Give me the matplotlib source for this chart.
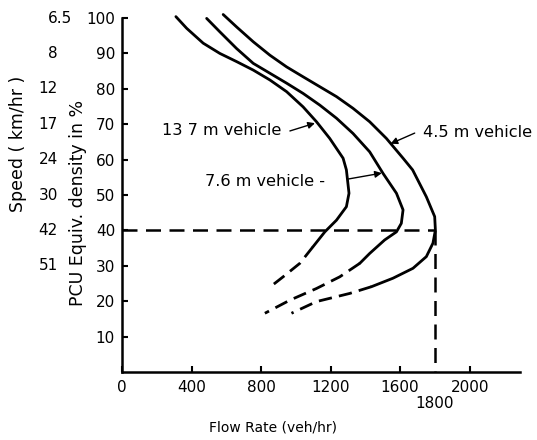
import matplotlib
matplotlib.use("Agg")
import matplotlib.pyplot as plt
import matplotlib.transforms as mtransforms

# Flow–density curves (flow in veh/hr, density in PCU equiv. %)
flow_45_solid = [582, 659, 755, 851, 947, 1042, 1138, 1234, 1329, 1425, 1521, 1617, 1672,
                 1751, 1799, 1803, 1789, 1751, 1674, 1559, 1435]
dens_45_solid = [101.0, 97.5, 93.3, 89.5, 86.2, 83.4, 80.6, 77.8, 74.5, 70.7, 66.0, 60.4, 57.1,
                 49.5, 43.9, 40.1, 36.4, 32.6, 29.3, 26.5, 24.1]
flow_45_dash = [1435, 1310, 1119, 975]
dens_45_dash = [24.1, 22.2, 19.9, 16.6]

flow_76_solid = [487, 563, 659, 755, 851, 947, 1042, 1138, 1234, 1329, 1425, 1502, 1579,
                 1617, 1607, 1579, 1511, 1425, 1368]
dens_76_solid = [99.9, 96.1, 91.4, 87.2, 84.4, 81.6, 78.7, 75.4, 71.7, 67.4, 62.2, 56.1, 50.5,
                 45.8, 42.0, 39.6, 37.3, 33.5, 30.7]
flow_76_dash = [1368, 1253, 1119, 966, 822]
dens_76_dash = [30.7, 26.9, 23.6, 20.3, 16.6]

flow_137_solid = [310, 372, 467, 563, 659, 755, 851, 947, 1042, 1119, 1195, 1272, 1291,
                  1306, 1291, 1234, 1167, 1099]
dens_137_solid = [100.4, 97.1, 92.9, 90.0, 87.7, 85.3, 82.5, 79.2, 74.9, 70.7, 66.0, 60.4, 57.1,
                  50.5, 46.7, 42.9, 39.6, 35.4]
flow_137_dash = [1099, 1023, 927, 841]
dens_137_dash = [35.4, 30.7, 26.9, 23.6]

# Capacity reference point
cap_flow = 1800
cap_density = 40

x_ticks = [0, 400, 800, 1200, 1600, 2000]
y_ticks = [10, 20, 30, 40, 50, 60, 70, 80, 90, 100]
speed_density = [100, 90, 80, 70, 60, 50, 40, 30]
speed_labels = ["6.5", "8", "12", "17", "24", "30", "42", "51"]

plt.rcParams["font.family"] = ["DejaVu Sans"]

fig = plt.figure(figsize=(5.37, 4.40), dpi=100)
ax = fig.add_axes([0.2272, 0.1545, 0.7412, 0.8045])

lw = 2.0
solid_kw = dict(color="black", lw=lw, solid_capstyle="round", solid_joinstyle="round", clip_on=False)
dash_kw = dict(color="black", lw=lw, linestyle=(0, (4.8, 2.6)), clip_on=False)

ax.plot(flow_45_solid, dens_45_solid, **solid_kw)
ax.plot(flow_45_dash, dens_45_dash, **dash_kw)
ax.plot(flow_76_solid, dens_76_solid, **solid_kw)
ax.plot(flow_76_dash, dens_76_dash, **dash_kw)
ax.plot(flow_137_solid, dens_137_solid, **solid_kw)
ax.plot(flow_137_dash, dens_137_dash, **dash_kw)

# Capacity guide lines
guide_kw = dict(color="black", lw=1.8, linestyle=(0, (6, 3.4)), clip_on=False)
ax.plot([0, cap_flow], [cap_density, cap_density], **guide_kw)
ax.plot([cap_flow, cap_flow], [cap_density, 0], **guide_kw)

ax.set_xlim(0, 2290)
ax.set_ylim(0, 100)
ax.spines["top"].set_visible(False)
ax.spines["right"].set_visible(False)
ax.spines["left"].set_linewidth(1.8)
ax.spines["bottom"].set_linewidth(1.8)

ax.set_xticks(x_ticks)
ax.set_yticks(y_ticks)
ax.tick_params(direction="in", length=4, width=1.5, labelsize=11, pad=6)
ax.tick_params(axis="y", pad=5)

ax.text(cap_flow, -8.8, "1800", ha="center", va="center", fontsize=11)
ax.text(868, -15.8, "Flow Rate (veh/hr)", ha="center", va="center", fontsize=10)

trans = mtransforms.blended_transform_factory(ax.transAxes, ax.transData)
for d, s in zip(speed_density, speed_labels):
    xr = -0.126 if s == "6.5" else -0.161
    ax.text(xr, d, s, transform=trans, ha="right", va="center", fontsize=11)
ax.text(-0.1106, 47.7, "PCU Equiv. density in %", transform=trans, rotation=90,
        ha="center", va="center", fontsize=12.5)
ax.text(-0.261, 64.4, "Speed ( km/hr )", transform=trans, rotation=90,
        ha="center", va="center", fontsize=12.5)

arrow = dict(arrowstyle="-|>", color="black", lw=1.0, mutation_scale=10, shrinkA=0, shrinkB=0)
ann_fs = 11.6
ax.annotate("", xy=(1110, 70.3), xytext=(966, 68.1), arrowprops=arrow, annotation_clip=False)
ax.text(230, 68.1, "13 7 m vehicle", ha="left", va="center", fontsize=ann_fs)

ax.annotate("", xy=(1495, 56.2), xytext=(1299, 54.5), arrowprops=arrow, annotation_clip=False)
ax.text(477, 53.7, "7.6 m vehicle -", ha="left", va="center", fontsize=ann_fs)

ax.annotate("", xy=(1545, 64.5), xytext=(1684, 67.5), arrowprops=arrow, annotation_clip=False)
ax.text(1730, 67.8, "4.5 m vehicle", ha="left", va="center", fontsize=ann_fs)

fig.savefig("out.png", dpi=100)
